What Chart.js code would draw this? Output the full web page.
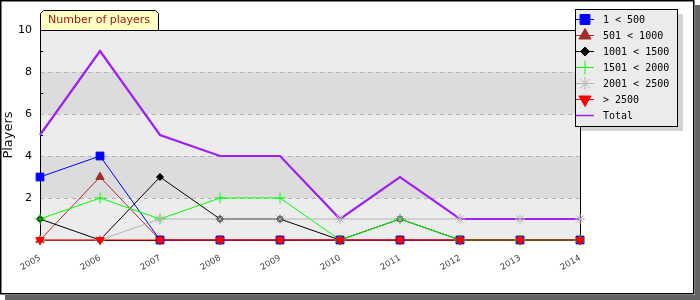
<!DOCTYPE html>
<html><head><meta charset="utf-8">
<script src="https://cdn.jsdelivr.net/npm/chart.js@4/dist/chart.umd.min.js"></script>
<style>html,body{margin:0;padding:0;background:#fff;}#wrap{width:700px;height:300px;position:relative;}</style>
</head><body><div id="wrap"><canvas id="c" width="700" height="300"></canvas></div>
<script>
// ---- data ----
const years = ['2005','2006','2007','2008','2009','2010','2011','2012','2013','2014'];
const under500   = [3,4,0,0,0,0,0,0,0,0];
const from501    = [0,3,0,0,0,0,0,0,0,0];
const from1001   = [1,0,3,1,1,0,1,0,0,0];
const from1501   = [1,2,1,2,2,0,1,0,0,0];
const from2001   = [0,0,1,1,1,1,1,1,1,1];
const over2500   = [0,0,0,0,0,0,0,0,0,0];
const totalPlayers = [5,9,5,4,4,1,3,1,1,1];
const seriesLabels = ['1 < 500','501 < 1000','1001 < 1500','1501 < 2000','2001 < 2500','> 2500','Total'];
const yTickLabels = [2,4,6,8,10];
const chartTitle = 'Number of players';
const yAxisTitle = 'Players';

// ---- styles ----
const seriesData = [under500, from501, from1001, from1501, from2001, over2500, totalPlayers];
const styles = [
  {color:'#0000ff', style:'rect', r:5.5, lr:7, rot:0, w:1},
  {color:'#a52a2a', style:'triangle', r:4.8, lr:7, rot:0, w:1},
  {color:'#000000', style:'rectRot', r:3.5, lr:4.5, rot:0, w:1},
  {color:'#00ff00', style:'cross', r:5.5, lr:7, rot:0, w:1},
  {color:'#b4b4b4', style:'star', r:5, lr:6.5, rot:0, w:1},
  {color:'#ff0000', style:'triangle', r:4.8, lr:7, rot:180, w:1},
  {color:'#a020f0', style:false, r:0, lr:0, rot:0, w:2.2}
];

const datasets = [];
seriesData.forEach((d, i) => {
  const s = styles[i];
  datasets.push({label: seriesLabels[i], data: d, borderColor: s.color, backgroundColor: s.color,
    borderWidth: s.w, pointRadius: 0, tension: 0, clip: false, order: 100 - i, fill: false});
  if (s.style) {
    datasets.push({label: seriesLabels[i] + ' pts', data: d, showLine: false, borderColor: s.color, backgroundColor: s.color,
      pointStyle: s.style, pointRadius: s.r, pointRotation: s.rot, pointBorderWidth: 1, clip: false, order: 50 - i});
  }
});

const frame = {
  id: 'frame',
  beforeDraw(chart) {
    const ctx = chart.ctx, a = chart.chartArea, y = chart.scales.y;
    ctx.save();
    ctx.fillStyle = '#ffffff'; ctx.fillRect(0,0,700,300);
    ctx.fillStyle = '#646464';
    ctx.fillRect(695, 5, 5, 295);
    ctx.fillRect(5, 295, 695, 5);
    ctx.fillStyle = '#ffffff'; ctx.fillRect(0,0,694,294);
    ctx.strokeStyle = '#000'; ctx.lineWidth = 1.5; ctx.strokeRect(0.75,0.75,693,293);
    for (let v = 0; v < 10; v += 2) {
      const y1 = y.getPixelForValue(v), y2 = y.getPixelForValue(v+2);
      ctx.fillStyle = (v/2) % 2 === 1 ? '#dcdcdc' : '#ececec';
      ctx.fillRect(a.left, y2, a.right - a.left, y1 - y2);
    }
    ctx.strokeStyle = '#b4b4b4'; ctx.lineWidth = 1; ctx.setLineDash([4,4]);
    for (const v of [2,4,6,8]) {
      const py = Math.round(y.getPixelForValue(v)) + 0.5;
      ctx.beginPath(); ctx.moveTo(a.left, py); ctx.lineTo(a.right, py); ctx.stroke();
    }
    ctx.setLineDash([]);
    ctx.restore();
  },
  beforeDatasetsDraw(chart) {
    const ctx = chart.ctx, a = chart.chartArea, y = chart.scales.y;
    ctx.save();
    ctx.strokeStyle = '#000'; ctx.lineWidth = 1;
    ctx.strokeRect(Math.round(a.left)+0.5, Math.round(a.top)+0.5, Math.round(a.right-a.left), Math.round(a.bottom-a.top));
    for (let v = 1; v < 10; v += 2) {
      const py = Math.round(y.getPixelForValue(v)) + 0.5;
      ctx.beginPath(); ctx.moveTo(a.left, py); ctx.lineTo(a.left + 3, py); ctx.stroke();
    }
    ctx.restore();
  },
  afterDraw(chart) {
    const ctx = chart.ctx, a = chart.chartArea;
    ctx.save();
    const tl = a.left, tr = 159, tt = 10, tb = a.top;
    ctx.beginPath();
    ctx.moveTo(tl+0.5, tb); ctx.lineTo(tl+0.5, tt+3.5); ctx.lineTo(tl+3.5, tt+0.5);
    ctx.lineTo(tr-3.5, tt+0.5); ctx.lineTo(tr-0.5, tt+3.5); ctx.lineTo(tr-0.5, tb);
    ctx.fillStyle = '#ffffc4'; ctx.fill();
    ctx.strokeStyle = '#000'; ctx.lineWidth = 1; ctx.stroke();
    ctx.fillStyle = '#a01818'; ctx.font = '11px "DejaVu Sans"'; ctx.textBaseline = 'middle'; ctx.textAlign = 'left';
    ctx.fillText(chartTitle, 48, 20.5);
    const lx = 576, ly = 9, lw = 102, lh = 117;
    ctx.fillStyle = '#d4d4d4'; ctx.fillRect(lx + 5, ly + 5, lw, lh);
    ctx.fillStyle = '#ebebeb'; ctx.fillRect(lx, ly, lw, lh);
    ctx.strokeStyle = '#000'; ctx.strokeRect(lx - 0.5, ly + 0.5, lw, lh);
    ctx.font = '10px "DejaVu Sans Mono"'; ctx.textBaseline = 'middle';
    seriesLabels.forEach((lab, i) => {
      const s = styles[i], cy = 19.5 + 16 * i;
      ctx.strokeStyle = s.color; ctx.fillStyle = s.color; ctx.lineWidth = s.w > 1 ? 1.5 : 1;
      ctx.beginPath(); ctx.moveTo(lx, cy); ctx.lineTo(lx + 18, cy); ctx.stroke();
      if (s.style) {
        ctx.lineWidth = 1;
        Chart.helpers.drawPoint(ctx, {pointStyle: s.style, radius: s.lr, rotation: s.rot, borderWidth: 1}, lx + 9, cy);
      }
      ctx.fillStyle = '#000';
      ctx.fillText(lab, 603, cy + 0.5);
    });
    ctx.restore();
  }
};

new Chart(document.getElementById('c'), {
  type: 'line',
  data: {labels: years, datasets},
  options: {
    responsive: false, animation: false, devicePixelRatio: 1,
    layout: {padding: {left: 0, top: 30, right: 120, bottom: 0}},
    plugins: {legend: {display: false}, tooltip: {enabled: false}, title: {display: false}},
    scales: {
      x: {
        grid: {display: false, drawTicks: false}, border: {display: false},
        ticks: {minRotation: 30, maxRotation: 30, padding: 13, color: '#444', font: {family: 'DejaVu Sans', size: 8.5}, autoSkip: false},
        afterFit(s) { s.height = 60; }
      },
      y: {
        min: 0, max: 10,
        grid: {display: false, drawTicks: false}, border: {display: false},
        afterBuildTicks(s) { s.ticks = [0].concat(yTickLabels).map(v => ({value: v})); },
        ticks: {padding: 8, color: '#000', font: {family: 'DejaVu Sans', size: 11}, callback: v => v === 0 ? '' : String(v)},
        title: {display: true, text: yAxisTitle, color: '#111', font: {family: 'DejaVu Sans', size: 13}, padding: {top: 1, bottom: 0}},
        afterFit(s) { s.width = 40; }
      }
    }
  },
  plugins: [frame]
});
</script></body></html>
